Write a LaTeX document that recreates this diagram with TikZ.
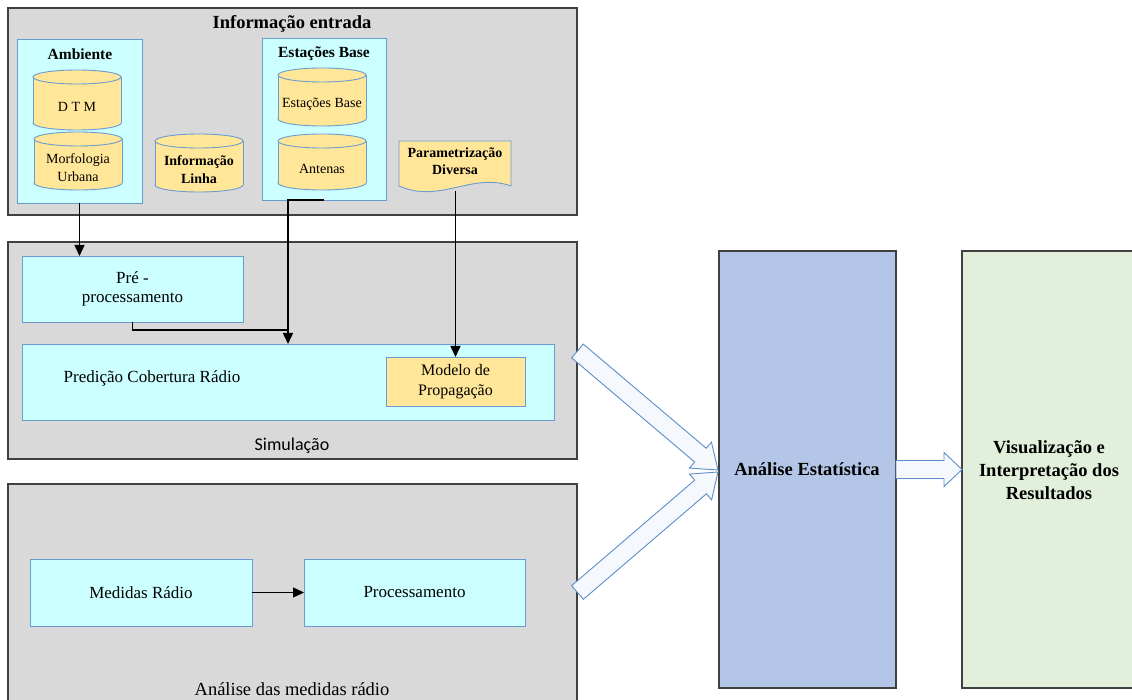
\documentclass[tikz,border=0pt]{standalone}
\usepackage{fontspec}
\setmainfont{Liberation Serif}
\newfontfamily\calfont{Carlito}
\usetikzlibrary{arrows.meta,calc}

\definecolor{panelgray}{HTML}{D9D9D9}
\definecolor{panelborder}{HTML}{404040}
\definecolor{cyanfill}{HTML}{CCFFFF}
\definecolor{bluebord}{HTML}{6A9BD1}
\definecolor{dbfill}{HTML}{FFE699}
\definecolor{statfill}{HTML}{B4C6E7}
\definecolor{visfill}{HTML}{E2EFDA}
\definecolor{arrowfill}{HTML}{F5F8FC}
\definecolor{arrowbord}{HTML}{5B8FC9}

\tikzset{
  panel/.style={draw=panelborder, line width=1.3pt, fill=panelgray, inner sep=0pt, outer sep=0pt, anchor=north west},
  cbox/.style={draw=bluebord, line width=0.9pt, fill=cyanfill, inner sep=0pt, outer sep=0pt, anchor=north west, align=center},
  obox/.style={draw=bluebord, line width=0.9pt, fill=dbfill, inner sep=0pt, outer sep=0pt, anchor=north west, align=center},
  bigbox/.style={draw=panelborder, line width=1.2pt, inner sep=0pt, outer sep=0pt, anchor=north west, align=center},
  dbstyle/.style={draw=bluebord, line width=0.9pt, fill=dbfill},
  cyltext/.style={align=center, inner sep=0pt, font=\fontsize{14}{18}\selectfont},
  conn/.style={draw=black, line width=1.4pt, -{Triangle[length=11pt,width=10pt]}},
  plainline/.style={draw=black, line width=1.4pt},
  barrow/.style={draw=arrowbord, line width=0.9pt, fill=arrowfill, line join=miter},
  lbl/.style={inner sep=0pt, align=center},
}

\newcommand{\dbcyl}[5]{%
  \filldraw[dbstyle] (#2,#4-7) ellipse (44 and 7);
  \fill[dbfill] (#2-44,#3+7) rectangle (#2+44,#4-7);
  \draw[bluebord, line width=0.9pt] (#2-44,#3+7) -- (#2-44,#4-7) (#2+44,#3+7) -- (#2+44,#4-7);
  \filldraw[dbstyle] (#2,#3+7) ellipse (44 and 7);
  \node[cyltext] (#1) at (#2,{(#3+#4)/2+7}) {#5};
}

\newcommand{\blockarrow}[4]{% tail, tip, name, head length
  \coordinate (#3h) at ($(#2)!#4!(#1)$);
  \filldraw[barrow] ($(#1)!9pt!90:(#2)$) -- ($(#3h)!9pt!-90:(#1)$) -- ($(#3h)!17pt!-90:(#1)$) -- (#2) -- ($(#3h)!17pt!90:(#1)$) -- ($(#3h)!9pt!90:(#1)$) -- ($(#1)!9pt!-90:(#2)$) -- cycle;
}

\begin{document}
\begin{tikzpicture}[x=1pt,y=-1pt]
\useasboundingbox (0,0) rectangle (1132,700);

% ---------- panels ----------
\node[panel, minimum width=569pt, minimum height=207pt] (info) at (8,8) {};
\node[panel, minimum width=569pt, minimum height=217pt] (sim) at (8,242) {};
\node[panel, minimum width=569pt, minimum height=230pt] (meas) at (8,484) {};

\node[lbl, font=\fontsize{18.5}{21}\selectfont\bfseries] (infot) at (292,24) {Informação entrada};
\node[lbl, font=\fontsize{18}{21}\selectfont\calfont] (simt) at (292,446) {Simulação};
\node[lbl, font=\fontsize{18.5}{21}\selectfont] (meast) at (292,689) {Análise das medidas rádio};

% ---------- input information ----------
\node[cbox, minimum width=125pt, minimum height=164pt] (amb) at (17,39) {};
\node[lbl, font=\fontsize{15.5}{18}\selectfont\bfseries] (ambt) at (80,54) {Ambiente};
\dbcyl{dtm}{77}{70}{130}{D T M}
\dbcyl{morf}{78}{132}{190}{Morfologia\\Urbana}
\dbcyl{linha}{199}{134}{192}{\bfseries Informação\\\bfseries Linha}

\node[cbox, minimum width=124pt, minimum height=162pt] (eb) at (262,38) {};
\node[lbl, font=\fontsize{15.5}{18}\selectfont\bfseries] (ebt) at (324,54) {Estações Base};
\dbcyl{ebc}{322}{68}{126}{Estações Base}
\dbcyl{ant}{322}{134}{190}{Antenas}

% document shape
\filldraw[dbstyle] (399,141) -- (511,141) -- (511,186) .. controls (472,172) and (440,204) .. (399,186) -- cycle;
\node[lbl, font=\fontsize{14}{17}\selectfont\bfseries] (param) at (455,161) {Parametrização\\Diversa};
\coordinate (docb) at (455.5,191);

% ---------- simulation ----------
\node[cbox, minimum width=221pt, minimum height=66pt, font=\fontsize{17}{19.5}\selectfont] (pre) at (22,256) {Pré -\\processamento};
\node[cbox, minimum width=532pt, minimum height=76pt] (pred) at (22,344) {};
\node[lbl, font=\fontsize{17}{20}\selectfont] (predt) at (152,378) {Predição Cobertura Rádio};
\node[obox, minimum width=139pt, minimum height=49pt, font=\fontsize{16}{20}\selectfont] (mod) at (386,357) {Modelo de\\Propagação};

% ---------- measurements ----------
\node[cbox, minimum width=222pt, minimum height=67pt, font=\fontsize{17}{20}\selectfont] (med) at (30,559) {Medidas Rádio};
\node[cbox, minimum width=221pt, minimum height=67pt, font=\fontsize{17}{20}\selectfont] (proc) at (304,559) {Processamento};

% ---------- right boxes ----------
\node[bigbox, fill=statfill, minimum width=177pt, minimum height=437pt] (stat) at (719,251) {};
\node[lbl, font=\fontsize{18.5}{21}\selectfont\bfseries] (statt) at (807,469) {Análise Estatística};
\node[bigbox, fill=visfill, minimum width=190pt, minimum height=437pt] (vis) at (962,251) {};
\node[lbl, font=\fontsize{18.5}{23}\selectfont\bfseries] (vist) at (1049,470) {Visualização e\\Interpretação dos\\Resultados};

% ---------- connectors ----------
\draw[conn] (amb.south) -- (amb.south |- pre.north);
\draw[conn] (eb.south) -- (eb.south -| pred.north) -- (pred.north);
\coordinate (join) at ($(pred.north)+(0,-14)$);
\draw[plainline] (pre.south) |- (join);
\draw[conn] (docb) -- (docb |- mod.north);
\draw[conn] (med.east) -- (proc.west);

% ---------- block arrows ----------
\coordinate (t1) at (577.5,351);
\coordinate (p1) at (718,470);
\coordinate (t2) at (577.5,592.5);
\coordinate (p2) at (718,472);
\blockarrow{t1}{p1}{a}{23pt}
\blockarrow{t2}{p2}{b}{23pt}
\blockarrow{stat.east}{vis.west}{c}{18pt}
\end{tikzpicture}
\end{document}
